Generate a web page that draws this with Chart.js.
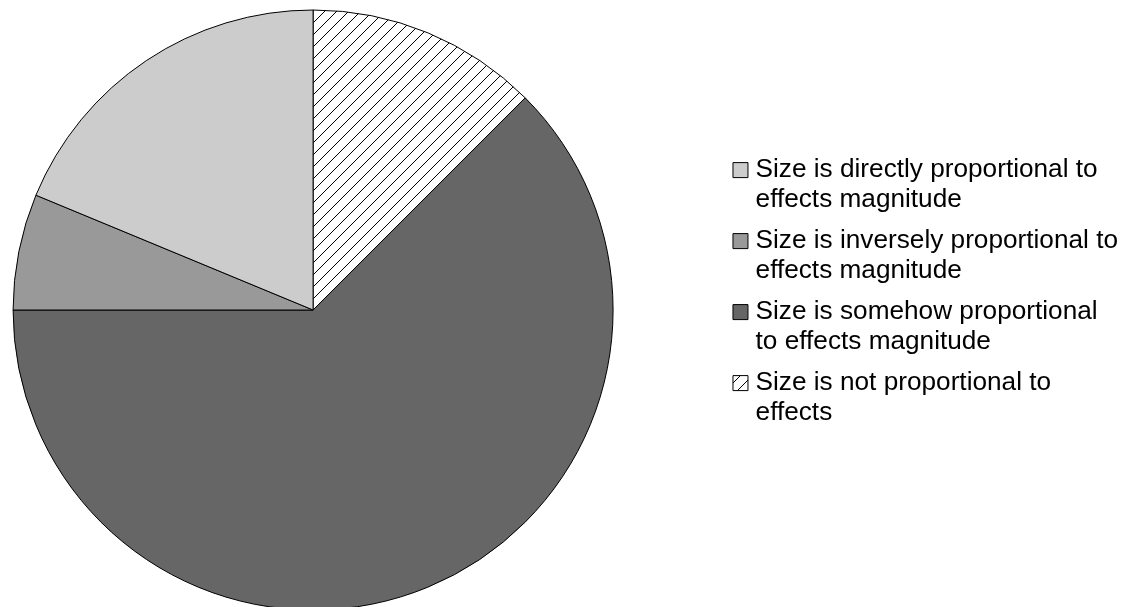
<!DOCTYPE html>
<html>
<head>
<meta charset="utf-8">
<script src="https://cdn.jsdelivr.net/npm/chart.js@4/dist/chart.umd.min.js"></script>
<style>
  html, body { margin: 0; padding: 0; background: #fff; overflow: hidden; }
  canvas { display: block; }
</style>
</head>
<body>
<canvas id="chart" width="1128" height="607"></canvas>
<script>
// Survey answers, in legend order
const categories = [
  ['Size is directly proportional to', 'effects magnitude'],
  ['Size is inversely proportional to', 'effects magnitude'],
  ['Size is somehow proportional', 'to effects magnitude'],
  ['Size is not proportional to', 'effects']
];
const responses = [3, 1, 10, 2];

// White tile with a single "/" stroke, repeated as a diagonal hatch
function diagonalHatch() {
  const s = 12;
  const tile = document.createElement('canvas');
  tile.width = s;
  tile.height = s;
  const g = tile.getContext('2d');
  g.fillStyle = '#ffffff';
  g.fillRect(0, 0, s, s);
  g.strokeStyle = '#000000';
  g.lineWidth = 1;
  g.beginPath();
  g.moveTo(-1, s + 1); g.lineTo(s + 1, -1);
  g.moveTo(-1, 1);     g.lineTo(1, -1);
  g.moveTo(s - 1, s + 1); g.lineTo(s + 1, s - 1);
  g.stroke();
  return g.createPattern(tile, 'repeat');
}

const fills = ['#cccccc', '#999999', '#666666', diagonalHatch()];

// Slices run clockwise from 12 o'clock in the reverse of the legend order
const order = [3, 2, 1, 0];

new Chart(document.getElementById('chart'), {
  type: 'pie',
  data: {
    labels: order.map(i => categories[i]),
    datasets: [{
      data: order.map(i => responses[i]),
      backgroundColor: order.map(i => fills[i]),
      borderColor: '#000000',
      borderWidth: 1,
      radius: 300,
      clip: false
    }]
  },
  options: {
    responsive: false,
    animation: false,
    layout: { padding: { left: 0, top: 146, bottom: 133, right: 0 } },
    plugins: {
      tooltip: { enabled: false },
      // empty title on the right, used as a gap between the pie and the legend
      title: {
        display: true,
        text: '',
        position: 'right',
        weight: 500,
        font: { size: 1, lineHeight: 1 },
        padding: { top: 100.3, bottom: 0 }
      },
      legend: {
        position: 'right',
        align: 'start',
        reverse: true,
        maxWidth: 500,
        labels: {
          font: { family: 'Liberation Sans', size: 26.2, lineHeight: '30px' },
          color: '#000000',
          padding: 11,
          usePointStyle: true,
          pointStyle: 'rect',
          boxWidth: 4,
          boxHeight: 15
        }
      }
    }
  }
});
</script>
</body>
</html>
